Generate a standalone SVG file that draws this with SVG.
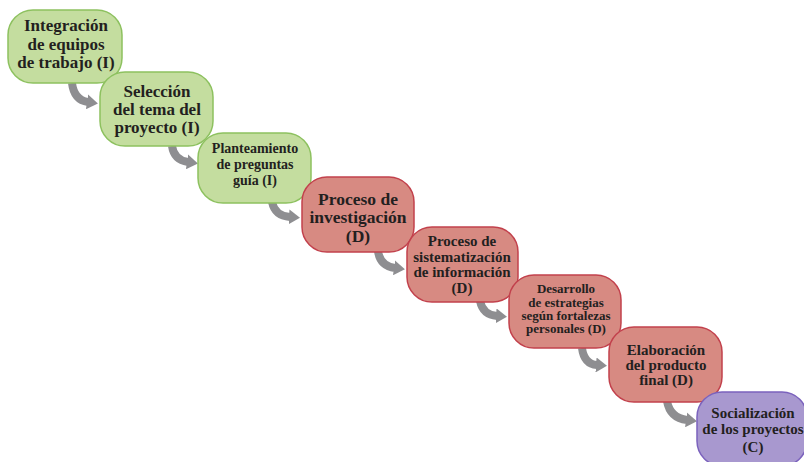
<svg xmlns="http://www.w3.org/2000/svg" width="804" height="462" viewBox="0 0 804 462">
<defs>
<marker id="ah" markerUnits="userSpaceOnUse" markerWidth="11" markerHeight="15" viewBox="0 0 11 15" refX="1" refY="7.5" orient="auto">
<path d="M0,0 L11,7.5 L0,15 z" fill="#8e8e91"/>
</marker>
<style>
.g{fill:#c4dd9f;stroke:#8dc15f;stroke-width:1.5}
.r{fill:#d78a82;stroke:#c2414c;stroke-width:1.5}
.p{fill:#a898cf;stroke:#7b62bd;stroke-width:1.5}
text{font-family:"Liberation Serif","Times New Roman",serif;font-weight:bold;fill:#231f20;text-anchor:middle}
.a{fill:none;stroke:#8e8e91;stroke-width:8;marker-end:url(#ah)}
</style>
</defs>
<g id="connectors">
<path class="a" d="M72,83 Q74,100 88,102"/>
<path class="a" d="M172,146 Q174,160 188,162"/>
<path class="a" d="M272,202 Q275,216 290,217"/>
<path class="a" d="M378,251 Q380,266 395,268"/>
<path class="a" d="M480,301 Q483,315 497,316"/>
<path class="a" d="M582,348 Q584,364 597,365"/>
<path class="a" d="M667,401 Q670,418 687,420"/>
</g>
<g id="n1"><rect class="g" x="8" y="10" width="114" height="73" rx="25"/>
<text font-size="17"><tspan x="66" y="31">Integración</tspan><tspan x="66" y="50">de equipos</tspan><tspan x="66" y="68">de trabajo (I)</tspan></text></g>
<g id="n2"><rect class="g" x="100" y="72" width="113" height="74" rx="25"/>
<text font-size="17"><tspan x="157" y="97">Selección</tspan><tspan x="157" y="115">del tema del</tspan><tspan x="157" y="133">proyecto (I)</tspan></text></g>
<g id="n3"><rect class="g" x="198" y="133" width="113" height="70" rx="25"/>
<text font-size="14"><tspan x="255" y="153">Planteamiento</tspan><tspan x="255" y="169">de preguntas</tspan><tspan x="255" y="185">guía (I)</tspan></text></g>
<g id="n4"><rect class="r" x="302" y="177" width="112" height="75" rx="25"/>
<text font-size="17.5"><tspan x="358" y="205">Proceso de</tspan><tspan x="358" y="223">investigación</tspan><tspan x="358" y="242">(D)</tspan></text></g>
<g id="n5"><rect class="r" x="407" y="227" width="111" height="75" rx="25"/>
<text font-size="15"><tspan x="462" y="246">Proceso de</tspan><tspan x="462" y="262">sistematización</tspan><tspan x="462" y="277">de información</tspan><tspan x="462" y="293">(D)</tspan></text></g>
<g id="n6"><rect class="r" x="509" y="275" width="112" height="73" rx="25"/>
<text font-size="13"><tspan x="566" y="293">Desarrollo</tspan><tspan x="566" y="306.5">de estrategias</tspan><tspan x="566" y="319.5">según fortalezas</tspan><tspan x="566" y="333">personales (D)</tspan></text></g>
<g id="n7"><rect class="r" x="609" y="327" width="113" height="75" rx="25"/>
<text font-size="15"><tspan x="666" y="355">Elaboración</tspan><tspan x="666" y="370">del producto</tspan><tspan x="666" y="385">final (D)</tspan></text></g>
<g id="n8"><rect class="p" x="697" y="392" width="110" height="74" rx="25"/>
<text font-size="15"><tspan x="753" y="418">Socialización</tspan><tspan x="753" y="434">de los proyectos</tspan><tspan x="753" y="452">(C)</tspan></text></g>
</svg>
